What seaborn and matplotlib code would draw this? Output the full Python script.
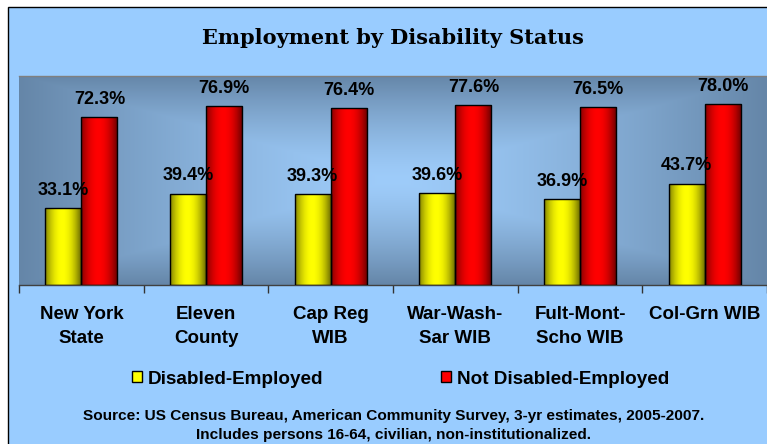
import numpy as np
import pandas as pd
import matplotlib
matplotlib.use("Agg")
import matplotlib.pyplot as plt
import seaborn as sns
from matplotlib.patches import Rectangle, Patch
from matplotlib.colors import to_rgb

# ---------------- data ----------------
categories = ["New York\nState", "Eleven\nCounty", "Cap Reg\nWIB",
              "War-Wash-\nSar WIB", "Fult-Mont-\nScho WIB", "Col-Grn WIB"]
disabled_employed = [33.1, 39.4, 39.3, 39.6, 36.9, 43.7]
not_disabled_employed = [72.3, 76.9, 76.4, 77.6, 76.5, 78.0]
series_names = ["Disabled-Employed", "Not Disabled-Employed"]
series_colors = ["#FFFF00", "#FF0000"]
title = "Employment by Disability Status"
source_lines = [
    "Source: US Census Bureau, American Community Survey, 3-yr estimates, 2005-2007.",
    "Includes persons 16-64, civilian, non-institutionalized.",
]

W, H = 767, 444
sns.set_theme(style="white")
plt.rcParams['font.family'] = ['Liberation Sans', 'DejaVu Sans']
plt.rcParams['text.color'] = 'black'
plt.rcParams['xtick.color'] = 'black'
plt.rcParams['axes.labelcolor'] = 'black'

fig = plt.figure(figsize=(W / 100, H / 100), dpi=100, facecolor="white")
fig.patches.append(Rectangle((7.5 / W, -0.2), 1.5, 1.2 - 7.5 / H,
                             transform=fig.transFigure, facecolor="#99CCFF",
                             edgecolor="black", lw=1, zorder=-20))

ax = fig.add_axes([19 / W, 1 - 285 / H, (767 - 19) / W, (285 - 76) / H])
ax.set_facecolor("none")

df = pd.DataFrame({
    "Region": categories * 2,
    "Rate": disabled_employed + not_disabled_employed,
    "Series": [series_names[0]] * len(categories) + [series_names[1]] * len(categories),
})
sns.barplot(data=df, x="Region", y="Rate", hue="Series", palette=series_colors,
            width=0.58, gap=0, edgecolor="black", linewidth=1, saturation=1,
            legend=False, ax=ax)

# background gradient of plot area (light centre, darker edges)
nx, ny = 400, 200
X, Y = np.meshgrid(np.linspace(-1, 1, nx), np.linspace(-1, 1, ny))
t = np.clip(np.maximum(np.abs(X), np.abs(Y)), 0, 1) ** 1.4
c0 = np.array([158, 204, 250]) / 255
c1 = np.array([101, 134, 168]) / 255
bg = c0[None, None, :] + (c1 - c0)[None, None, :] * t[..., None]
ax.imshow(bg, extent=[0, 1, 0, 1], transform=ax.transAxes, aspect="auto",
          zorder=-10, interpolation="bilinear")

# horizontal shading on bars
u = np.linspace(0, 1, 64)
f = np.clip(1 - np.abs((u - 0.47) / 0.53) ** 2, 0, 1)
dark = {"#FFFF00": np.array([95, 95, 0]) / 255, "#FF0000": np.array([100, 0, 0]) / 255}
for cont, col in zip(ax.containers, series_colors):
    bright = np.array(to_rgb(col))
    strip = dark[col][None, :] + (bright - dark[col])[None, :] * f[:, None]
    img = strip[None, :, :]
    for p in cont.patches:
        x0, y0 = p.get_x(), p.get_y()
        w, h = p.get_width(), p.get_height()
        im = ax.imshow(img, extent=[x0, x0 + w, y0, y0 + h], aspect="auto",
                       zorder=2.5, interpolation="bilinear")
        im.set_clip_path(p)
        p.set_facecolor("none")
        p.set_zorder(3)
    ax.bar_label(cont, fmt="%.1f%%", padding=6.5, fontsize=13,
                 fontweight="bold", color="black", zorder=5)

ax.set_xlim(-0.5, len(categories) - 0.5)
ax.set_ylim(0, 90)
ax.set_yticks([])
ax.set_xlabel("")
ax.set_ylabel("")

ax.set_xticks(range(len(categories)))
ax.set_xticklabels(categories, fontsize=13.5, fontweight="bold", linespacing=1.55,
                   color="black")
ax.set_xticks(np.arange(-0.5, len(categories), 1), minor=True)
ax.tick_params(axis="x", which="major", length=0, pad=15, bottom=True)
ax.tick_params(axis="x", which="minor", length=6, width=1, color="#333333",
               direction="out", bottom=True)

for s in ["left", "right"]:
    ax.spines[s].set_visible(False)
ax.spines["top"].set_color("#808080")
ax.spines["top"].set_linewidth(1)
ax.spines["bottom"].set_color("#404040")
ax.spines["bottom"].set_linewidth(1)

handles = [Patch(facecolor=c, edgecolor="black", lw=1) for c in series_colors]
fig.legend(handles, series_names, loc="center left",
           bbox_to_anchor=(132 / W, 1 - 379 / H), ncol=2, frameon=False,
           prop={"size": 13.6, "weight": "bold"}, handlelength=0.53,
           handleheight=0.53, handletextpad=0.33, columnspacing=6.2,
           borderpad=0, borderaxespad=0, labelcolor="black")

fig.text(392.5 / W, 1 - 44 / H, title, ha="center", va="baseline",
         fontsize=15, fontweight="bold", family=["DejaVu Serif"], color="black")
fig.text(394 / W, 1 - 420 / H, source_lines[0], ha="center", va="baseline",
         fontsize=11.1, fontweight="bold", color="black")
fig.text(394 / W, 1 - 439 / H, source_lines[1], ha="center", va="baseline",
         fontsize=11.1, fontweight="bold", color="black")

fig.savefig("out.png", dpi=100, facecolor="white")
